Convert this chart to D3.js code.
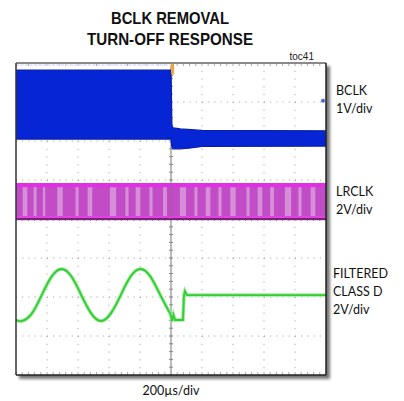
<!DOCTYPE html>
<html><head><meta charset="utf-8">
<script src="https://cdn.jsdelivr.net/npm/d3@7"></script>
<style>html,body{margin:0;padding:0;background:#fff;}svg{display:block;}</style>
</head><body>
<svg id="c" width="404" height="401"></svg>
<script>
// ---- data (time in µs, level in screen divisions, 0 = centre) ----
const timeDomain = [-1000, 1000];           // 200µs/div, 10 div
const levelDomain = [-4, 4];                 // 8 div
const gridTimes = [-800,-600,-400,-200,0,200,400,600,800];
const gridLevels = [-3,-2,-1,0,1,2,3];

// BCLK envelope (band)
const bclkTime = [-1000, -6, 0, 6, 13, 60, 130, 200, 1000];
const bclkHi   = [3.82, 3.82, 3.82, 2.40, 2.34, 2.31, 2.29, 2.27, 2.26];
const bclkLo   = [2.05, 2.05, 2.05, 1.84, 1.80, 1.80, 1.82, 1.86, 1.87];

// LRCLK band
const lrckTime = [-1000, 1000];
const lrckHi = [0.92, 0.92];
const lrckLo = [-0.03, -0.03];
const lrckStripes = [-942,-877,-819,-716,-606,-523,-374,-284,-213,-129,-39,77,161,239,316,400,497,574,652,755,832,916];
const lrckStripeW = [30,20,15,35,20,30,40,20,30,20,25,40,20,30,20,35,20,30,25,40,20,30];

// Filtered class D output
const sineTime  = [-1000,-961,-897,-834,-770,-706,-642,-579,-515,-452,-388,-324,-261,-197,-133,-69,-6];
const sineLevel = [-2.59,-2.615,-2.42,-1.95,-1.477,-1.282,-1.477,-1.95,-2.42,-2.615,-2.42,-1.95,-1.477,-1.282,-1.477,-1.95,-2.42];
const tailTime  = [-6, 0, 6, 16, 26, 77, 84, 90, 103, 1000];
const tailLevel = [-2.42,-2.49,-2.62,-2.46,-2.59,-2.59,-1.95,-1.85,-1.95,-1.95];

const titleLines = ["BCLK REMOVAL", "TURN-OFF RESPONSE"];
const chLabels = [
  {lines:["BCLK","1V/div"], level: 3.18},
  {lines:["LRCLK","2V/div"], level: 0.59},
  {lines:["FILTERED","CLASS D","2V/div"], level: -1.51}
];
const xLabel = "200µs/div";
const tocLabel = "toc41";

// ---- drawing ----
const svg = d3.select("#c");
const L=16, R=326, T=63, B=375;
const x = d3.scaleLinear().domain(timeDomain).range([L,R]);
const y = d3.scaleLinear().domain(levelDomain).range([B,T]);

const defs = svg.append("defs");
const f = defs.append("filter").attr("id","sh").attr("x","-10%").attr("y","-10%").attr("width","130%").attr("height","130%");
f.append("feGaussianBlur").attr("stdDeviation",1.8);
const cp = defs.append("clipPath").attr("id","clip");
cp.append("rect").attr("x",L).attr("y",T).attr("width",R-L).attr("height",B-T);

// shadow + frame background
svg.append("rect").attr("x",L+3).attr("y",T+3).attr("width",R-L+1).attr("height",B-T+1)
  .attr("fill","#777").attr("filter","url(#sh)");
svg.append("rect").attr("x",L).attr("y",T).attr("width",R-L).attr("height",B-T).attr("fill","#fff");

const plot = svg.append("g").attr("clip-path","url(#clip)");

// grid
plot.selectAll("line.gv").data(gridTimes.filter(d=>d!==0)).join("line")
  .attr("x1",d=>x(d)).attr("x2",d=>x(d)).attr("y1",T).attr("y2",B)
  .attr("stroke","#9a9a9a").attr("stroke-width",1).attr("stroke-dasharray","1,6.8");
plot.selectAll("line.gh").data(gridLevels.filter(d=>d!==0)).join("line")
  .attr("y1",d=>y(d)).attr("y2",d=>y(d)).attr("x1",L).attr("x2",R)
  .attr("stroke","#9a9a9a").attr("stroke-width",1).attr("stroke-dasharray","1,5.2");
// centre crosshair with minor ticks
plot.append("line").attr("x1",x(0)).attr("x2",x(0)).attr("y1",T).attr("y2",B)
  .attr("stroke","#777").attr("stroke-width",1);
plot.append("line").attr("y1",y(0)).attr("y2",y(0)).attr("x1",L).attr("x2",R)
  .attr("stroke","#999").attr("stroke-width",1).attr("stroke-dasharray","1,2");
const minorT = d3.range(-1000,1001,40);
const minorL = d3.range(-4,4.01,0.2);
plot.selectAll("line.mt").data(minorT).join("line")
  .attr("x1",d=>x(d)).attr("x2",d=>x(d)).attr("y1",y(0)-2).attr("y2",y(0)+2).attr("stroke","#888");
plot.selectAll("line.ml").data(minorL).join("line")
  .attr("y1",d=>y(d)).attr("y2",d=>y(d)).attr("x1",x(0)-2).attr("x2",x(0)+2).attr("stroke","#888");
plot.selectAll("line.tt").data(minorT).join("line")
  .attr("x1",d=>x(d)).attr("x2",d=>x(d)).attr("y1",T).attr("y2",T+3).attr("stroke","#aaa");
plot.selectAll("line.bt").data(minorT).join("line")
  .attr("x1",d=>x(d)).attr("x2",d=>x(d)).attr("y1",B-3).attr("y2",B).attr("stroke","#aaa");

// BCLK band
const bclk = bclkTime.map((t,i)=>({t,hi:bclkHi[i],lo:bclkLo[i]}));
const area = d3.area().x(d=>x(d.t)).y0(d=>y(d.lo)).y1(d=>y(d.hi));
plot.append("path").datum(bclk).attr("d",area).attr("fill","#0626d6")
  .attr("stroke","#0a1fa8").attr("stroke-width",1.2);
plot.append("line").attr("x1",L).attr("x2",x(0)).attr("y1",T+2).attr("y2",T+2)
  .attr("stroke","#dfe4ff").attr("stroke-width",2).attr("stroke-dasharray","3,1.5");

// LRCLK band
const lrck = lrckTime.map((t,i)=>({t,hi:lrckHi[i],lo:lrckLo[i]}));
plot.append("path").datum(lrck).attr("d",area).attr("fill","#c24cc6");
plot.selectAll("rect.st").data(lrckStripes).join("rect")
  .attr("x",(d,i)=>x(d-lrckStripeW[i]/2)).attr("width",(d,i)=>x(lrckStripeW[i])-x(0))
  .attr("y",y(lrckHi[0])+4).attr("height",y(lrckLo[0])-y(lrckHi[0])-7)
  .attr("fill","#d99adb").attr("opacity",0.85);
plot.append("rect").attr("x",L).attr("width",R-L).attr("y",y(lrckHi[0]))
  .attr("height",4).attr("fill","#e22ee6");
plot.append("rect").attr("x",L).attr("width",R-L).attr("y",y(0)-3)
  .attr("height",3).attr("fill","#e040e4");
plot.append("line").attr("x1",L).attr("x2",R).attr("y1",y(0)).attr("y2",y(0))
  .attr("stroke","#5a1a55").attr("stroke-width",1.5);
plot.append("line").attr("x1",x(0)).attr("x2",x(0)).attr("y1",y(lrckHi[0])).attr("y2",y(0))
  .attr("stroke","#8a6a8a").attr("stroke-width",1).attr("opacity",0.7);

// Filtered class D
const sine = sineTime.map((t,i)=>({t,v:sineLevel[i]}));
const tail = tailTime.map((t,i)=>({t,v:tailLevel[i]}));
const lineC = d3.line().x(d=>x(d.t)).y(d=>y(d.v)).curve(d3.curveNatural);
const lineL = d3.line().x(d=>x(d.t)).y(d=>y(d.v));
[[lineC,sine],[lineL,tail]].forEach(([g,d])=>{
  plot.append("path").datum(d).attr("d",g).attr("fill","none").attr("stroke","#9aec9a").attr("stroke-width",3.6);
  plot.append("path").datum(d).attr("d",g).attr("fill","none").attr("stroke","#35cc35").attr("stroke-width",1.8);
});

// trigger marker (orange) and channel marker
plot.append("path").attr("d",`M${x(0)},${T} h3 v10 l-1.5,4 l-1.5,-4 z`).attr("fill","#f2a33a");
svg.append("circle").attr("cx",R-3).attr("cy",y(3.03)).attr("r",2).attr("fill","#4a63d8");

// frame
svg.append("line").attr("x1",L).attr("x2",R).attr("y1",T).attr("y2",T).attr("stroke","#8a8a8a").attr("stroke-width",2);
svg.append("line").attr("x1",L).attr("x2",L).attr("y1",T).attr("y2",B).attr("stroke","#333").attr("stroke-width",1.5);
svg.append("line").attr("x1",R).attr("x2",R).attr("y1",T).attr("y2",B).attr("stroke","#222").attr("stroke-width",1.5);
svg.append("line").attr("x1",L).attr("x2",R).attr("y1",B).attr("y2",B).attr("stroke","#222").attr("stroke-width",1.5);

// titles
const tw = [118, 166];
svg.selectAll("text.title").data(titleLines).join("text")
  .attr("x",170).attr("y",(d,i)=>24+i*21).attr("text-anchor","middle")
  .attr("font-family","Liberation Sans, Arial, sans-serif").attr("font-weight","bold")
  .attr("font-size",16.5).attr("fill","#111")
  .attr("textLength",(d,i)=>tw[i]).attr("lengthAdjust","spacingAndGlyphs").text(d=>d);
svg.append("text").attr("x",314).attr("y",60).attr("text-anchor","end")
  .attr("font-family","Liberation Sans, Arial, sans-serif").attr("font-size",10).attr("fill","#222").text(tocLabel);

// channel labels
const lab = svg.selectAll("g.lab").data(chLabels).join("g");
lab.each(function(d){
  const g = d3.select(this);
  const y0 = y(d.level);
  g.selectAll("text").data(d.lines).join("text")
    .attr("x", d.lines.length>2 ? 333 : 336)
    .attr("y",(s,i)=>y0+i*18.3)
    .attr("font-family","Lato, 'Open Sans', sans-serif").attr("font-size",12.5).attr("fill","#111")
    .text(s=>s);
});
svg.append("text").attr("x",171).attr("y",395).attr("text-anchor","middle")
  .attr("font-family","Lato, 'Open Sans', sans-serif").attr("font-size",12.5).attr("fill","#111").text(xLabel);
</script>
</body></html>
